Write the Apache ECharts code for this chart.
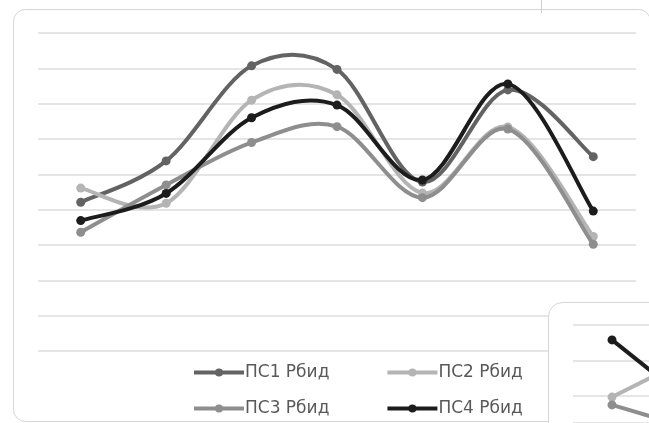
<!DOCTYPE html>
<html>
<head>
<meta charset="utf-8">
<script src="https://cdn.jsdelivr.net/npm/echarts@6/dist/echarts.min.js"></script>
<style>
html,body{margin:0;padding:0;background:#fff;}
#c{width:649px;height:423px;}
</style>
</head>
<body>
<div id="c"></div>
<script>
// Main chart data
const categories = ['1', '2', '3', '4', '5', '6', '7'];
const seriesNames = ['ПС1 Рбид', 'ПС2 Рбид', 'ПС3 Рбид', 'ПС4 Рбид'];
const ps1 = [4.21, 5.38, 8.07, 7.97, 4.78, 7.39, 5.50];
const ps2 = [4.61, 4.18, 7.10, 7.25, 4.47, 6.34, 3.24];
const ps3 = [3.36, 4.70, 5.90, 6.35, 4.34, 6.28, 3.02];
const ps4 = [3.69, 4.46, 6.60, 6.96, 4.84, 7.56, 3.96];
const yTicks = [0, 1, 2, 3, 4, 5, 6, 7, 8, 9];

// Partially visible inset chart (bottom right); y measured downward from its top gridline
const insetX = [0, 1];
const insetBlack = [0.42, 2.17];
const insetLight = [2.03, 0.93];
const insetMedium = [2.25, 2.90];

const colors = ['#636363', '#b4b4b4', '#8e8e8e', '#1c1c1c'];
const values = [ps1, ps2, ps3, ps4];

const chart = echarts.init(document.getElementById('c'), null, {renderer: 'canvas'});

// Excel-like smoothed curve (Catmull-Rom style bezier), positioned via api.coord
function makeCurveRenderer(arr, color) {
  return function (params, api) {
    const i = params.dataIndex;
    const n = arr.length;
    if (i >= n - 1) return null;
    const ip = Math.max(i - 1, 0), in2 = Math.min(i + 2, n - 1);
    const p0 = api.coord([ip, arr[ip]]);
    const p1 = api.coord([i, arr[i]]);
    const p2 = api.coord([i + 1, arr[i + 1]]);
    const p3 = api.coord([in2, arr[in2]]);
    const t = 1 / 6;
    return {
      type: 'bezierCurve',
      shape: {
        x1: p1[0], y1: p1[1], x2: p2[0], y2: p2[1],
        cpx1: p1[0] + (p2[0] - p0[0]) * t, cpy1: p1[1] + (p2[1] - p0[1]) * t,
        cpx2: p2[0] - (p3[0] - p1[0]) * t, cpy2: p2[1] - (p3[1] - p1[1]) * t
      },
      style: {stroke: color, lineWidth: 4, fill: null, lineCap: 'round'}
    };
  };
}

const curveSeries = values.map((arr, i) => ({
  type: 'custom',
  xAxisIndex: 0,
  yAxisIndex: 0,
  data: arr.map((v, k) => [k, v]),
  encode: {x: 0, y: 1},
  renderItem: makeCurveRenderer(arr, colors[i]),
  z: 2 + i * 2,
  silent: true
}));

const pointSeries = seriesNames.map((name, i) => ({
  name: name,
  type: 'line',
  xAxisIndex: 0,
  yAxisIndex: 0,
  data: values[i],
  symbol: 'circle',
  symbolSize: 9,
  showSymbol: true,
  lineStyle: {width: 4, color: colors[i], opacity: 0},
  itemStyle: {color: colors[i]},
  z: 3 + i * 2
}));

const insetDefs = [[insetBlack, colors[3]], [insetLight, colors[1]], [insetMedium, colors[2]]];
const insetSeries = insetDefs.map((d, i) => ({
  name: 'inset' + i,
  type: 'line',
  xAxisIndex: 1,
  yAxisIndex: 1,
  data: insetX.map((x, k) => [x, d[0][k]]),
  symbol: 'circle',
  symbolSize: 9,
  lineStyle: {width: 4, color: d[1]},
  itemStyle: {color: d[1]},
  z: 20 + i,
  silent: true
}));

const legendText = {color: '#595959', fontFamily: 'DejaVu Sans', fontSize: 17, padding: [0, 0, 0, -4]};
const legendCommon = {
  orient: 'horizontal', itemWidth: 50, itemHeight: 10, itemGap: 56, padding: 0,
  textStyle: legendText, selectedMode: false,
  lineStyle: {opacity: 1, width: 4}
};

chart.setOption({
  animation: false,
  backgroundColor: '#ffffff',
  grid: [
    {left: 38, right: 13, top: 33, bottom: 72, containLabel: false},
    {left: 573, right: 0, top: 325, bottom: 0, containLabel: false, z: 15}
  ],
  xAxis: [
    {type: 'category', gridIndex: 0, data: categories, boundaryGap: true,
     axisLine: {show: false}, axisTick: {show: false}, axisLabel: {show: false}, splitLine: {show: false}},
    {type: 'value', gridIndex: 1, min: -0.5, max: 0.474,
     axisLine: {show: false}, axisTick: {show: false}, axisLabel: {show: false}, splitLine: {show: false}, z: 15}
  ],
  yAxis: [
    {type: 'value', gridIndex: 0, min: yTicks[0], max: yTicks[yTicks.length - 1], interval: 1,
     axisLine: {show: false}, axisTick: {show: false}, axisLabel: {show: false},
     splitLine: {show: true, lineStyle: {color: '#dcdcdc', width: 1.5}}},
    {type: 'value', gridIndex: 1, min: 0, max: 2.76, interval: 1, inverse: true,
     axisLine: {show: false}, axisTick: {show: false}, axisLabel: {show: false},
     splitLine: {show: true, lineStyle: {color: '#dcdcdc', width: 1.5}}, z: 15}
  ],
  legend: [
    Object.assign({data: [seriesNames[0], seriesNames[1]], left: 192, top: 364}, legendCommon),
    Object.assign({data: [seriesNames[2], seriesNames[3]], left: 192, top: 400}, legendCommon)
  ],
  graphic: [
    {type: 'rect', z: -10, silent: true,
     shape: {x: 13.5, y: 9.5, width: 637, height: 412, r: 12},
     style: {fill: null, stroke: '#d6d6d6', lineWidth: 1}},
    {type: 'line', z: -10, silent: true,
     shape: {x1: 541.5, y1: 0, x2: 541.5, y2: 13},
     style: {stroke: '#cfcfcf', lineWidth: 1}},
    {type: 'rect', z: 10, silent: true,
     shape: {x: 548.5, y: 302.5, width: 140, height: 160, r: 14},
     style: {fill: '#ffffff', stroke: '#d6d6d6', lineWidth: 1}}
  ],
  series: curveSeries.concat(pointSeries).concat(insetSeries)
});
</script>
</body>
</html>
